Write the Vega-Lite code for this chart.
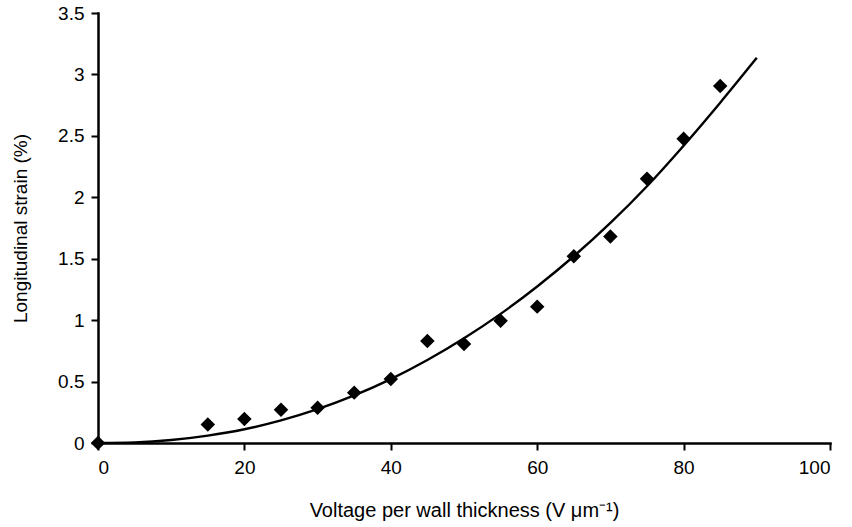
{
  "$schema": "https://vega.github.io/schema/vega-lite/v6.json",
  "width": 732,
  "height": 430,
  "autosize": {"type": "none"},
  "padding": {"left": 98, "top": 13, "right": 22, "bottom": 84},
  "background": "white",
  "config": {
    "view": {"stroke": null},
    "font": "Liberation Sans",
    "axis": {
      "grid": false,
      "domainColor": "#000000",
      "domainWidth": 2.5,
      "domainCap": "square",
      "tickColor": "#000000",
      "tickWidth": 2,
      "tickSize": 7,
      "labelColor": "#000000",
      "labelFontSize": 19,
      "labelFont": "Liberation Sans",
      "titleColor": "#000000",
      "titleFontSize": 19,
      "titleFont": "Liberation Sans",
      "titleFontWeight": "normal"
    }
  },
  "datasets": {
    "measured": [
      {"field": 0, "strain": 0},
      {"field": 15, "strain": 0.15},
      {"field": 20, "strain": 0.195},
      {"field": 25, "strain": 0.27},
      {"field": 30, "strain": 0.287},
      {"field": 35, "strain": 0.41},
      {"field": 40, "strain": 0.52},
      {"field": 45, "strain": 0.83},
      {"field": 50, "strain": 0.805},
      {"field": 55, "strain": 0.995},
      {"field": 60, "strain": 1.11},
      {"field": 65, "strain": 1.52},
      {"field": 70, "strain": 1.68},
      {"field": 75, "strain": 2.15},
      {"field": 80, "strain": 2.477},
      {"field": 85, "strain": 2.905}
    ],
    "fit": [
      {"field": 0, "strain": 0},
      {"field": 5, "strain": 0.005},
      {"field": 10, "strain": 0.024},
      {"field": 15, "strain": 0.06},
      {"field": 20, "strain": 0.112},
      {"field": 25, "strain": 0.184},
      {"field": 30, "strain": 0.275},
      {"field": 35, "strain": 0.387},
      {"field": 40, "strain": 0.52},
      {"field": 45, "strain": 0.675},
      {"field": 50, "strain": 0.852},
      {"field": 55, "strain": 1.051},
      {"field": 60, "strain": 1.274},
      {"field": 65, "strain": 1.52},
      {"field": 70, "strain": 1.791},
      {"field": 75, "strain": 2.09},
      {"field": 80, "strain": 2.42},
      {"field": 85, "strain": 2.77},
      {"field": 90, "strain": 3.135}
    ]
  },
  "layer": [
    {
      "data": {"name": "fit"},
      "mark": {"type": "line", "color": "#000000", "strokeWidth": 2.4, "interpolate": "monotone"},
      "encoding": {
        "x": {
          "field": "field",
          "type": "quantitative",
          "scale": {"domain": [0, 100], "nice": false},
          "axis": {
            "values": [0, 20, 40, 60, 80, 100],
            "format": "d",
            "labelPadding": 8,
            "title": "Voltage per wall thickness (V μm⁻¹)",
            "titleFontSize": 20,
            "titlePadding": 23
          }
        },
        "y": {
          "field": "strain",
          "type": "quantitative",
          "scale": {"domain": [0, 3.5], "nice": false},
          "axis": {
            "values": [0, 0.5, 1, 1.5, 2, 2.5, 3, 3.5],
            "format": "~r",
            "labelPadding": 7,
            "title": "Longitudinal strain (%)",
            "titlePadding": 27
          }
        }
      }
    },
    {
      "data": {"name": "measured"},
      "mark": {"type": "point", "shape": "diamond", "filled": true, "color": "#000000", "opacity": 1, "size": 210},
      "encoding": {
        "x": {"field": "field", "type": "quantitative"},
        "y": {"field": "strain", "type": "quantitative"}
      }
    }
  ]
}
